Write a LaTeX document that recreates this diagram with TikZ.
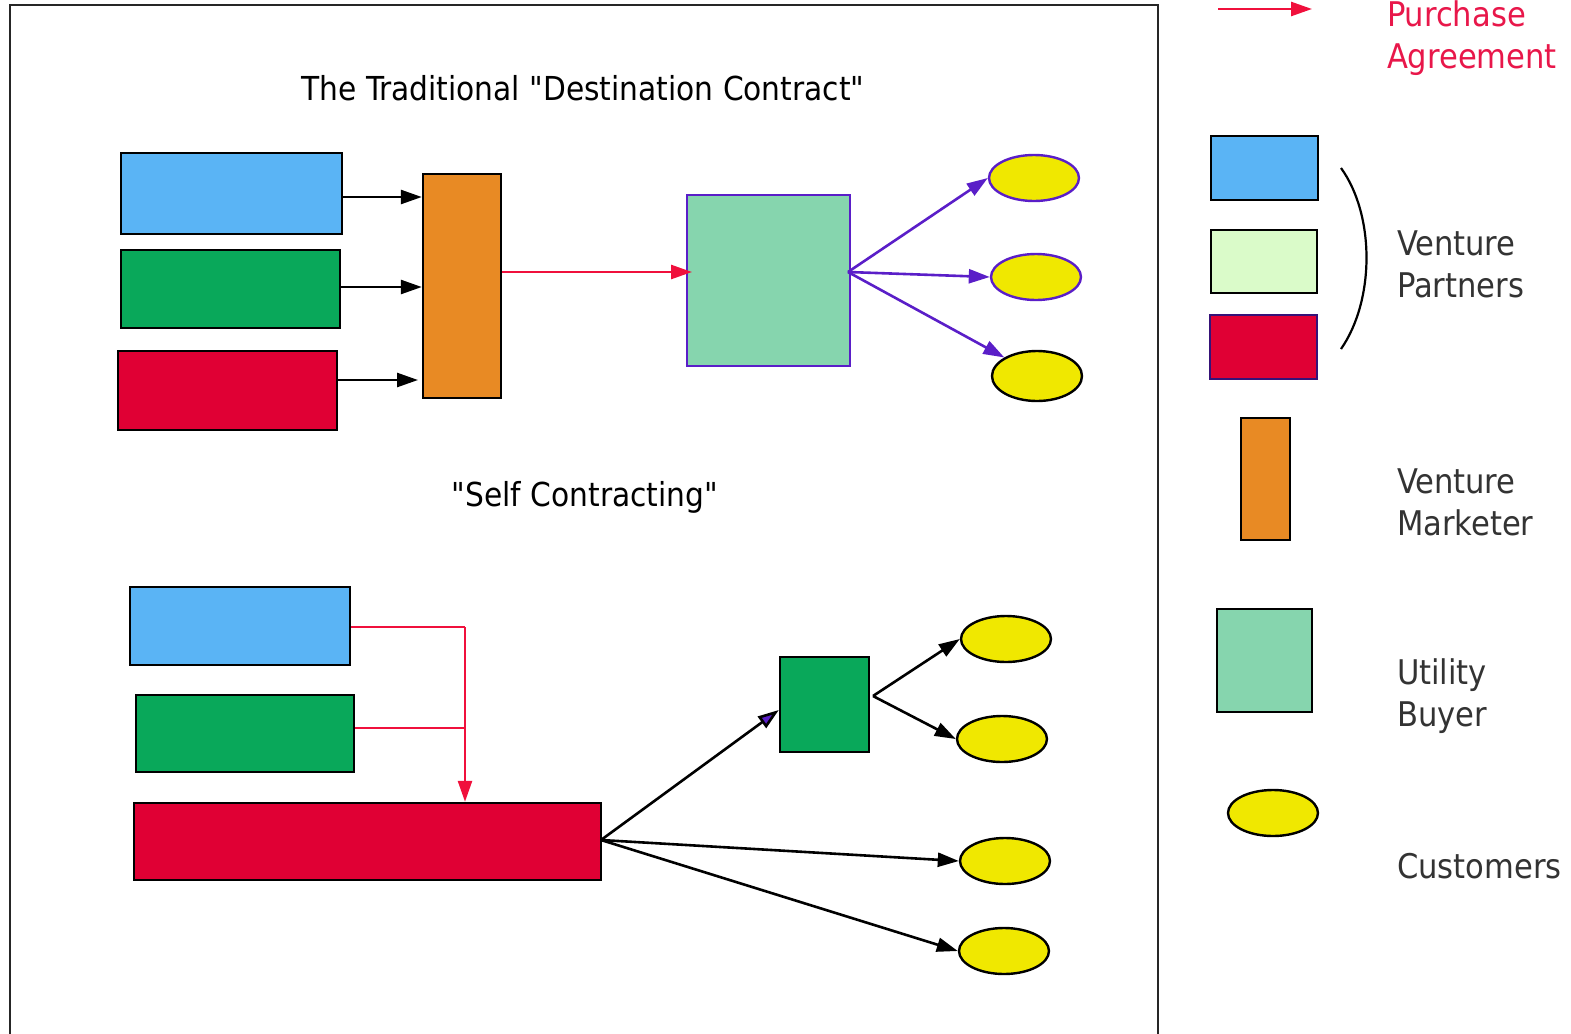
\documentclass[tikz,border=0pt]{standalone}
\usepackage{fontspec}
\setmainfont{DejaVu Sans Condensed}[Ligatures=TeXOff]
\usetikzlibrary{arrows.meta,positioning,shapes.geometric}
\definecolor{partnerblue}{HTML}{5AB4F5}
\definecolor{partnergreen}{HTML}{09A85A}
\definecolor{partnerred}{HTML}{E00034}
\definecolor{marketorange}{HTML}{E88A24}
\definecolor{buyerteal}{HTML}{86D5AE}
\definecolor{custyellow}{HTML}{F0E800}
\definecolor{paleleaf}{HTML}{DAFBC9}
\definecolor{linkpurple}{HTML}{5A1EC8}
\definecolor{dealred}{HTML}{F0103C}
\definecolor{labelred}{HTML}{E8174A}
\tikzset{
    boxnode/.style={
        draw,
        rectangle,
        line width=1.2pt,
        inner sep=0pt
    },
    custnode/.style={ % requires library shapes.geometric
        draw,
        ellipse,
        line width=1.2pt,
        fill=custyellow,
        inner sep=0pt,
        minimum width=45pt,
        minimum height=23pt
    },
    flow/.style={
        line width=1.3pt,
        -{Triangle[length=10.5pt,width=7pt]}
    },
    legendtext/.style={
        anchor=west,
        align=left,
        font=\fontsize{17}{21}\selectfont,
        text=black!80
    }
}

\begin{document}
\begin{tikzpicture}[x=0.5pt,y=-0.5pt]
        \useasboundingbox (0,0) rectangle (1571,1034);
        \draw[line width=1.2pt,black!85] (10,1045) -- (10,5) -- (1158,5) -- (1158,1045);

        % traditional destination contract
        \node[font=\fontsize{16.5}{21}\selectfont] (title1) at (583,88) {The Traditional "Destination Contract"};
        \node[boxnode,fill=partnerblue,minimum width=110.5pt,minimum height=40.5pt] (blue1) at (231.5,193.5) {};
        \node[boxnode,fill=partnergreen,minimum width=109.5pt,minimum height=39pt] (green1) at (230.5,289) {};
        \node[boxnode,fill=partnerred,minimum width=109.5pt,minimum height=39.5pt] (red1) at (227.5,390.5) {};
        \node[boxnode,fill=marketorange,minimum width=39pt,minimum height=112pt] (market) at (462,286) {};
        \node[boxnode,draw=linkpurple,fill=buyerteal,minimum width=81.5pt,minimum height=85.5pt] (buyer) at (768.5,280.5) {};
        \node[custnode,draw=linkpurple] (cust1) at (1034,178) {};
        \node[custnode,draw=linkpurple] (cust2) at (1036,277) {};
        \node[custnode,minimum height=25pt] (cust3) at (1037,376) {};

        \draw[flow] (blue1.east |- 0,197) -- (market.west |- 0,197);
        \draw[flow] (green1.east |- 0,287) -- (market.west |- 0,287);
        \draw[flow] (red1.east |- 0,380) -- (418,380);
        \draw[flow,dealred] (market.east |- 0,272) -- (692,272);
        \coordinate (fan1) at (848,272);
        \draw[flow,linkpurple] (fan1) -- (cust1.west);
        \draw[flow,linkpurple] (fan1) -- (cust2.west);
        \draw[flow,linkpurple] (fan1) -- (cust3.north west);

        % self contracting
        \node[font=\fontsize{16.5}{21}\selectfont] (title2) at (585,497) {"Self Contracting"};
        \node[boxnode,fill=partnerblue,minimum width=110pt,minimum height=39pt] (blue2) at (240,626) {};
        \node[boxnode,fill=partnergreen,minimum width=109pt,minimum height=38.5pt] (green2) at (245,733.5) {};
        \node[boxnode,fill=partnerred,minimum width=233.5pt,minimum height=38.5pt] (red2) at (367.5,841.5) {};
        \node[boxnode,fill=partnergreen,minimum width=44.5pt,minimum height=47.5pt] (own) at (824.5,704.5) {};
        \node[custnode] (cust4) at (1006,639) {};
        \node[custnode] (cust5) at (1002,739) {};
        \node[custnode] (cust6) at (1005,861) {};
        \node[custnode] (cust7) at (1004,951) {};

        \coordinate (join) at (465,627);
        \draw[dealred,line width=1.3pt] (blue2.east |- join) -- (join);
        \draw[dealred,line width=1.3pt] (green2.east |- 0,728) -- (465,728);
        \draw[flow,dealred] (join) -- (red2.north -| join);
        \coordinate (fan2) at (601,840);
        \coordinate (fan3) at (873,696);
        \draw[flow,-{Triangle[length=10.5pt,width=7pt,fill=linkpurple]}] (fan2) -- (own.west |- 0,710);
        \draw[flow] (fan3) -- (cust4.west);
        \draw[flow] (fan3) -- (cust5.west);
        \draw[flow] (fan2) -- (cust6.west);
        \draw[flow] (fan2) -- (cust7.west);

        % legend
        \coordinate (deal1) at (1218,9);
        \coordinate (deal2) at (1312,9);
        \draw[flow,dealred] (deal1) -- (deal2);
        \node[legendtext,text=labelred] (dealtext) at (1380,38) {Purchase\\Agreement};
        \node[boxnode,fill=partnerblue,minimum width=53.5pt,minimum height=32pt] (keyblue) at (1264.5,168) {};
        \node[boxnode,fill=paleleaf,minimum width=53pt,minimum height=31.5pt] (keyleaf) at (1264,261.5) {};
        \node[boxnode,draw=linkpurple!60!black,fill=partnerred,minimum width=53.5pt,minimum height=32pt] (keyred) at (1263.5,347) {};
        \draw[line width=1.1pt] (1341,168) .. controls (1375,215) and (1375,300) .. (1341,349);
        \node[legendtext] (partners) at (1390,264) {Venture\\Partners};
        \node[boxnode,fill=marketorange,minimum width=24.5pt,minimum height=61pt] (keymarket) at (1265.5,479) {};
        \node[legendtext] (marketer) at (1390,502) {Venture\\Marketer};
        \node[boxnode,fill=buyerteal,minimum width=47.5pt,minimum height=51.5pt] (keybuyer) at (1264.5,660.5) {};
        \node[legendtext] (buyertext) at (1390,696) {Utility\\Buyer};
        \node[custnode] (keycust) at (1273,813) {};
        \node[legendtext] (custtext) at (1390,866) {Customers};
    \end{tikzpicture}
\end{document}
